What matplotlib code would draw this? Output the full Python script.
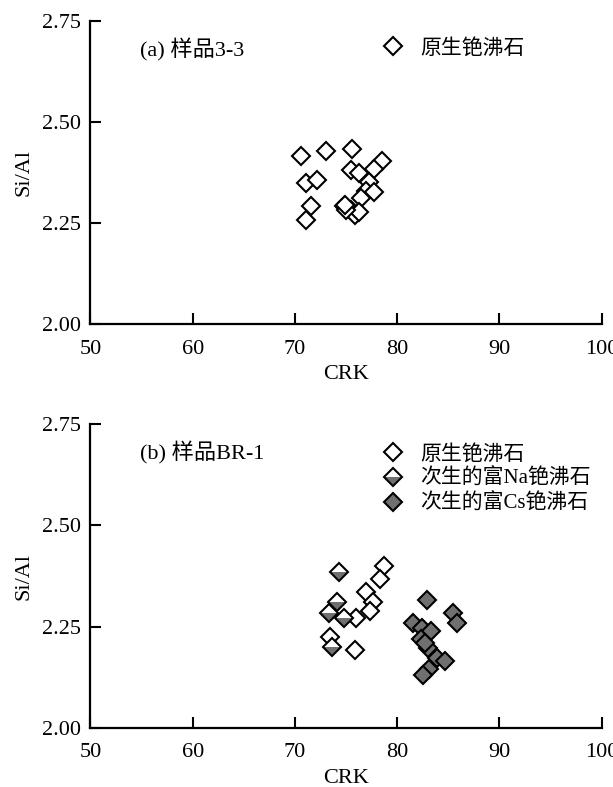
import matplotlib
matplotlib.use("Agg")
import matplotlib.pyplot as plt
from matplotlib.lines import Line2D

plt.rcParams['font.family'] = ['Liberation Serif', 'Noto Sans CJK SC']
plt.rcParams['font.size'] = 16

# (a) sample 3-3, primary pollucite
a_crk = [70.6, 73.0, 75.6, 78.5, 71.1, 72.2, 75.5, 76.3, 77.7, 77.2, 76.9,
         77.7, 76.5, 71.6, 71.1, 74.8, 75.1, 75.5, 75.9, 76.3, 75.0, 74.9]
a_sial = [2.417, 2.428, 2.434, 2.404, 2.349, 2.356, 2.383, 2.375, 2.385, 2.352, 2.330,
          2.327, 2.313, 2.293, 2.259, 2.292, 2.287, 2.284, 2.270, 2.278, 2.282, 2.296]

# (b) sample BR-1
b_prim_crk = [78.7, 78.3, 76.9, 77.65, 77.3, 75.96, 75.87, 73.4]
b_prim_sial = [2.400, 2.367, 2.335, 2.312, 2.289, 2.272, 2.192, 2.225]
b_na_crk = [74.26, 74.14, 73.35, 74.82, 73.6]
b_na_sial = [2.384, 2.312, 2.283, 2.271, 2.200]
b_cs_crk = [82.87, 85.47, 85.81, 81.5, 82.39, 83.27, 82.29, 83.03, 83.85, 84.66,
            83.13, 82.48, 82.7]
b_cs_sial = [2.317, 2.283, 2.258, 2.258, 2.248, 2.240, 2.219, 2.197, 2.172, 2.166,
             2.145, 2.132, 2.210]

labels = ['原生铯沸石', '次生的富Na铯沸石', '次生的富Cs铯沸石']
gray = '#707070'
ms = 9.5
mew = 1.5

fig = plt.figure(figsize=(6.13, 7.87), dpi=100)
ax1 = fig.add_axes([0.1476, 0.588, 0.834, 0.385])
ax2 = fig.add_axes([0.1476, 0.075, 0.834, 0.386])

def style(ax):
    ax.set_xlim(50, 100)
    ax.set_ylim(2.0, 2.75)
    ax.set_xticks([50, 60, 70, 80, 90, 100])
    ax.set_yticks([2.0, 2.25, 2.5, 2.75])
    ax.set_yticklabels(['2.00', '2.25', '2.50', '2.75'])
    ax.spines['top'].set_visible(False)
    ax.spines['right'].set_visible(False)
    ax.spines['left'].set_linewidth(1.6)
    ax.spines['bottom'].set_linewidth(1.6)
    ax.tick_params(direction='in', length=8, width=1.5, labelsize=16, pad=7)
    ax.tick_params(axis='x', pad=11)
    ax.set_xlabel('CRK', fontsize=16, labelpad=5)
    ax.set_ylabel('Si/Al', fontsize=16, labelpad=6)

prim_kw = dict(marker='D', ls='none', ms=ms, mew=mew, mec='black', mfc='white')
# half filled: gray lower half drawn without edge, black outline on top
na_fill_kw = dict(marker='D', ls='none', ms=ms - 1.2, mew=0, mec='none', mfc=gray,
                  fillstyle='bottom', markerfacecoloralt='white')
na_edge_kw = dict(marker='D', ls='none', ms=ms, mew=mew, mec='black', mfc='none')
cs_kw = dict(marker='D', ls='none', ms=ms, mew=mew, mec='black', mfc=gray)

# (a)
ax1.plot(a_crk, a_sial, **prim_kw)
style(ax1)
ax1.text(54.8, 2.678, '(a) 样品3-3', fontsize=16, va='center')
h = [Line2D([], [], **prim_kw)]
ax1.legend(h, labels[:1], loc='upper left', bbox_to_anchor=(0.572, 0.943),
           frameon=False, handlelength=1, handletextpad=0.8, borderpad=0,
           borderaxespad=0, fontsize=15)

# (b)
ax2.plot(b_prim_crk, b_prim_sial, **prim_kw)
for c, s in zip(b_na_crk, b_na_sial):
    ax2.plot([c], [s], ms=ms, marker='D', ls='none', mew=0, mfc='white')
    ax2.plot([c], [s], **na_fill_kw)
    ax2.plot([c], [s], **na_edge_kw)
ax2.plot(b_cs_crk, b_cs_sial, **cs_kw)
style(ax2)
ax2.text(54.8, 2.678, '(b) 样品BR-1', fontsize=16, va='center')
h = [Line2D([], [], **prim_kw),
     (Line2D([], [], **na_fill_kw), Line2D([], [], **na_edge_kw)),
     Line2D([], [], **cs_kw)]
ax2.legend(h, labels, loc='upper left', bbox_to_anchor=(0.572, 0.933),
           frameon=False, handlelength=1, handletextpad=0.8, borderpad=0,
           borderaxespad=0, labelspacing=0.22, fontsize=15)

fig.savefig('out.png', dpi=100, facecolor='white')
